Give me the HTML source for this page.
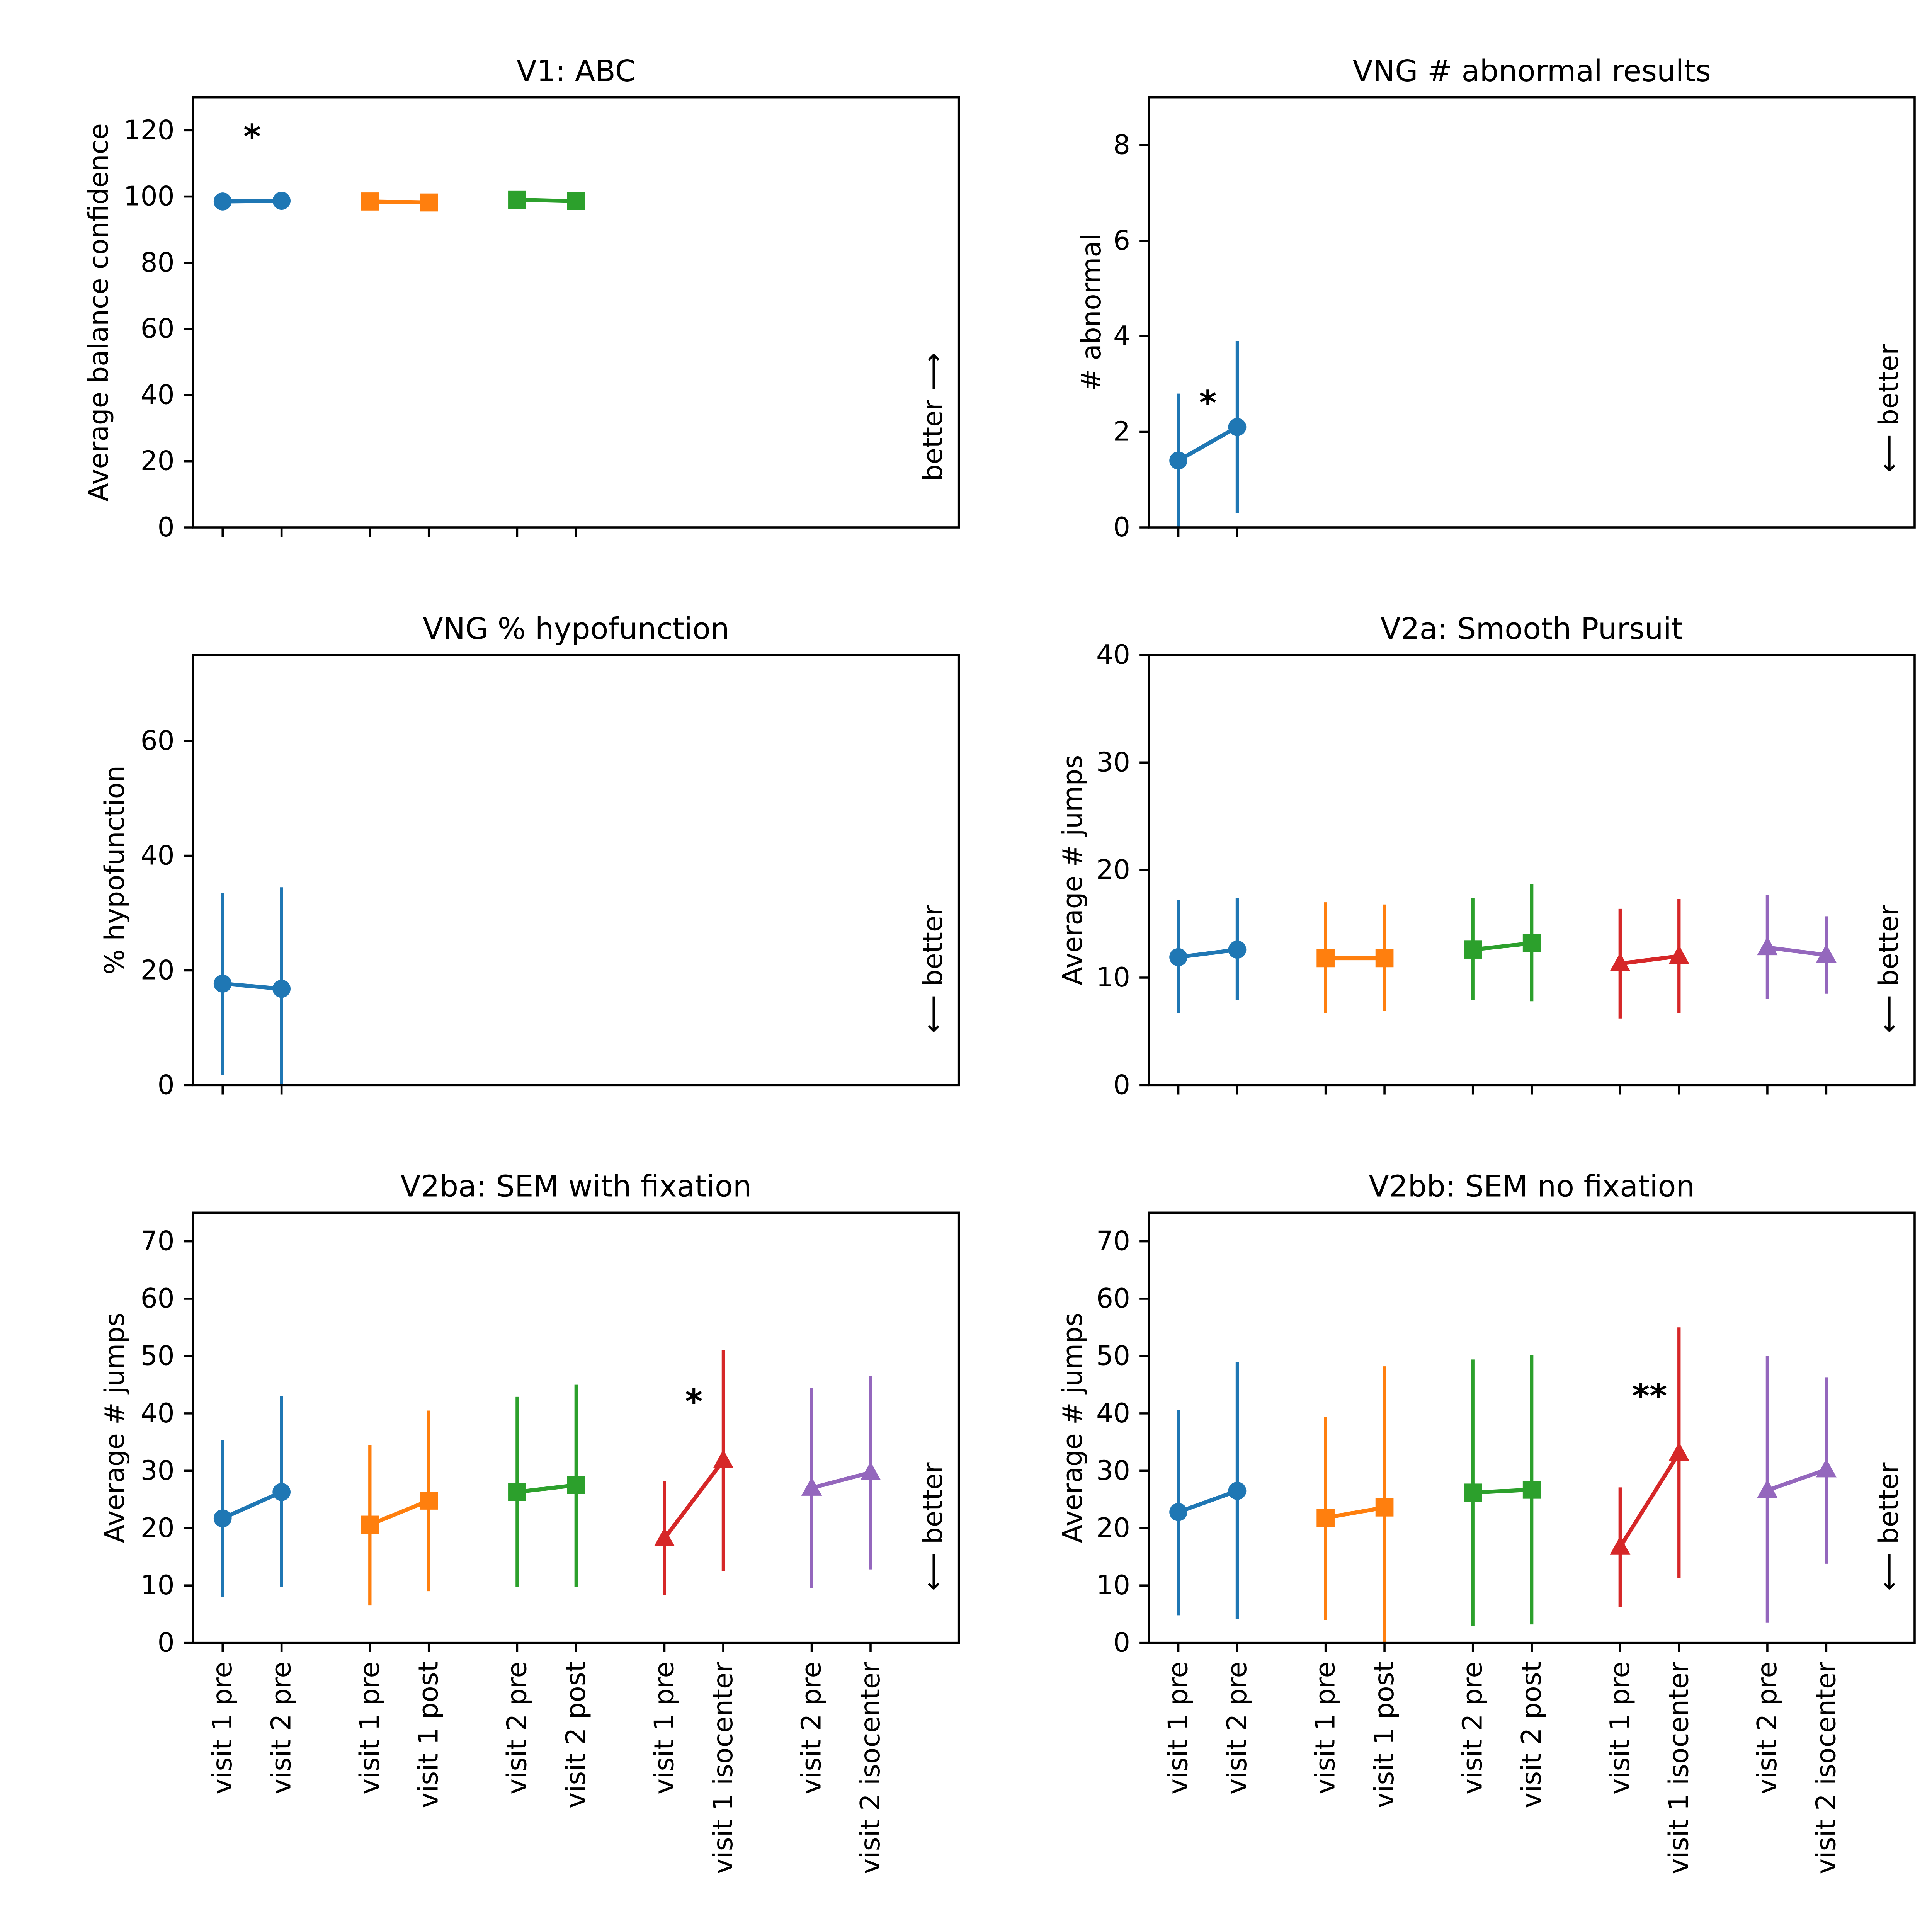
<!DOCTYPE html>
<html><head><meta charset="utf-8">
<style>html,body{margin:0;padding:0;background:#fff;overflow:hidden}svg{display:block;width:100vw;height:100vh}text{font-family:"DejaVu Sans","Liberation Sans",sans-serif;fill:#000}</style>
</head><body>
<svg id="fig" viewBox="0 0 6000 6000" preserveAspectRatio="none" xmlns="http://www.w3.org/2000/svg"></svg>
<script>
// shared categories
const xCategories = ["visit 1 pre","visit 2 pre","visit 1 pre","visit 1 post","visit 2 pre","visit 2 post","visit 1 pre","visit 1 isocenter","visit 2 pre","visit 2 isocenter"];
const xPositions = [0,1,2.5,3.5,5,6,7.5,8.5,10,11];
const groupColors = ["#1f77b4","#ff7f0e","#2ca02c","#d62728","#9467bd"];
const groupMarkers = ["circle","square","square","triangle","triangle"];

// V1: ABC
const abcMean = [98.5,98.7, 98.5,98.2, 99.0,98.6];
const abcLow  = [97.8,98.0, 97.8,97.5, 98.3,96.0];
const abcHigh = [99.2,99.4, 99.2,98.9, 99.7,101.0];
const abcTicks = [0,20,40,60,80,100,120];
// VNG # abnormal
const abnMean = [1.4,2.1];
const abnLow  = [0.0,0.3];
const abnHigh = [2.8,3.9];
const abnTicks = [0,2,4,6,8];
// VNG % hypofunction
const hypMean = [17.7,16.8];
const hypLow  = [1.8,-1.0];
const hypHigh = [33.5,34.5];
const hypTicks = [0,20,40,60];
// V2a smooth pursuit
const spMean = [11.9,12.6, 11.8,11.8, 12.6,13.2, 11.3,12.0, 12.8,12.1];
const spLow  = [6.7,7.9, 6.7,6.9, 7.9,7.8, 6.2,6.7, 8.0,8.5];
const spHigh = [17.2,17.4, 17.0,16.8, 17.4,18.7, 16.4,17.3, 17.7,15.7];
const spTicks = [0,10,20,30,40];
// V2ba
const fixMean = [21.7,26.3, 20.6,24.8, 26.3,27.5, 18.2,31.8, 27.0,29.7];
const fixLow  = [8.0,9.8, 6.5,9.0, 9.8,9.8, 8.3,12.5, 9.5,12.8];
const fixHigh = [35.3,43.0, 34.5,40.5, 42.9,45.0, 28.2,51.0, 44.5,46.5];
// V2bb
const nofMean = [22.8,26.5, 21.8,23.6, 26.2,26.7, 16.7,33.1, 26.6,30.2];
const nofLow  = [4.8,4.2, 4.0,-1.0, 3.0,3.2, 6.2,11.3, 3.5,13.8];
const nofHigh = [40.6,49.0, 39.4,48.2, 49.4,50.2, 27.1,55.0, 50.0,46.3];
const semTicks = [0,10,20,30,40,50,60,70];

const NS="http://www.w3.org/2000/svg";
const svg=document.getElementById('fig');
function mk(tag,attrs,parent){const e=document.createElementNS(NS,tag);for(const k in attrs)e.setAttribute(k,attrs[k]);(parent||svg).appendChild(e);return e;}

const W=2378,H=1336,FS=83;
function panel(p){
  const g=mk('g',{});
  
  
  const L=p.left,T=p.top;
  const xs=v=>L+(v+0.5)/13*W;
  const ys=v=>T+H-(v/p.ymax)*H;
  const clip='clip-'+p.name;
  const cp=mk('clipPath',{id:clip},g);mk('rect',{x:L,y:T,width:W,height:H},cp);
  const t=mk('text',{x:L+W/2,y:T-50,'text-anchor':'middle','font-size':92},g);t.textContent=p.title;
  
  
  const yl=mk('text',{x:p.ylx,y:T+H/2,'text-anchor':'middle','dominant-baseline':'central','font-size':FS,transform:`rotate(-90 ${p.ylx} ${T+H/2})`},g);yl.textContent=p.ylabel;
  
  
  p.yticks.forEach(v=>{const y=ys(v);
    mk('line',{x1:L-29,x2:L,y1:y,y2:y,stroke:'#000','stroke-width':6.7},g);
    const tx=mk('text',{x:L-58,y:y,'text-anchor':'end','dominant-baseline':'central','font-size':FS},g);tx.textContent=v;
    
    
  });
  const n=p.mean.length;
  for(let i=0;i<n;i++){const x=xs(xPositions[i]);
    mk('line',{x1:x,x2:x,y1:T+H,y2:T+H+29,stroke:'#000','stroke-width':6.7},g);
    if(p.xlabels){const ty=T+H+58;const tx=mk('text',{x:x,y:ty,'text-anchor':'end','dominant-baseline':'central','font-size':FS,transform:`rotate(-90 ${x} ${ty})`},g);tx.textContent=xCategories[i];
      
      }
  }
  const dg=mk('g',{'clip-path':`url(#${clip})`},g);
  for(let s=0;s<n/2;s++){
    const c=groupColors[s],i0=2*s,i1=2*s+1;
    const sg=mk('g',{},dg);
    
    
    [i0,i1].forEach(i=>{const x=xs(xPositions[i]);mk('line',{x1:x,x2:x,y1:ys(p.low[i]),y2:ys(p.high[i]),stroke:c,'stroke-width':10},sg);});
    mk('line',{x1:xs(xPositions[i0]),y1:ys(p.mean[i0]),x2:xs(xPositions[i1]),y2:ys(p.mean[i1]),stroke:c,'stroke-width':12.5},sg);
    [i0,i1].forEach(i=>{const x=xs(xPositions[i]),y=ys(p.mean[i]);const m=groupMarkers[s];let e;
      if(m==='circle')e=mk('circle',{cx:x,cy:y,r:28,fill:c},sg);
      else if(m==='square')e=mk('rect',{x:x-28,y:y-28,width:56,height:56,fill:c},sg);
      else e=mk('polygon',{points:`${x},${y-34} ${x+32},${y+24} ${x-32},${y+24}`,fill:c},sg);
      
      
    });
  }
  if(p.star){const st=mk('text',{x:xs(p.star[0]),y:ys(p.star[1]),'text-anchor':'middle','dominant-baseline':'central','font-size':104,'font-weight':'bold'},g);st.textContent=p.star[2];
    
    }
  const bx=L+W-80,by=T+p.by;
  const b=mk('text',{x:bx,y:by,'text-anchor':'middle','dominant-baseline':'central','font-size':FS,transform:`rotate(-90 ${bx} ${by})`},g);
  b.textContent=p.up?'better \u27F6':'\u27F5 better';
  
  
  mk('rect',{x:L,y:T,width:W,height:H,fill:'none',stroke:'#000','stroke-width':6.7},g);
}
const C1=600,C2=3568,R1=302,R2=2034,R3=3766;
panel({name:'panel-v1-abc',left:C1,top:R1,ymax:130,yticks:abcTicks,title:'V1: ABC',ylabel:'Average balance confidence',ylx:307,mean:abcMean,low:abcLow,high:abcHigh,star:[0.5,118,'*'],up:true,by:993});
panel({name:'panel-vng-abnormal',left:C2,top:R1,ymax:9,yticks:abnTicks,title:'VNG # abnormal results',ylx:3390,ylabel:'# abnormal',mean:abnMean,low:abnLow,high:abnHigh,star:[0.5,2.6,'*'],up:false,by:966});
panel({name:'panel-vng-hypofunction',left:C1,top:R2,ymax:75,yticks:hypTicks,title:'VNG % hypofunction',ylx:357,ylabel:'% hypofunction',mean:hypMean,low:hypLow,high:hypHigh,up:false,by:975});
panel({name:'panel-v2a-smooth-pursuit',left:C2,top:R2,ymax:40,yticks:spTicks,title:'V2a: Smooth Pursuit',ylx:3332,ylabel:'Average # jumps',mean:spMean,low:spLow,high:spHigh,up:false,by:975});
panel({name:'panel-v2ba-sem-fixation',left:C1,top:R3,ymax:75,yticks:semTicks,title:'V2ba: SEM with fixation',ylx:357,ylabel:'Average # jumps',mean:fixMean,low:fixLow,high:fixHigh,star:[8,42,'*'],up:false,by:975,xlabels:true});
panel({name:'panel-v2bb-sem-no-fixation',left:C2,top:R3,ymax:75,yticks:semTicks,title:'V2bb: SEM no fixation',ylx:3332,ylabel:'Average # jumps',mean:nofMean,low:nofLow,high:nofHigh,star:[8,43,'**'],up:false,by:975,xlabels:true});
</script>
</body></html>
